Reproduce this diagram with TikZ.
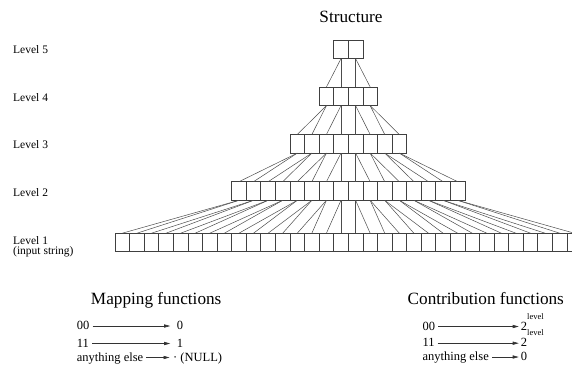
\documentclass[tikz,border=0pt]{standalone}
\usepackage{fontspec}
\setmainfont{Liberation Serif}
\usetikzlibrary{arrows.meta}

\begin{document}
\begin{tikzpicture}[x=1pt,y=-1pt,
  cell/.style={draw=black!75,line width=0.7pt,minimum width=14.58pt,minimum height=18.6pt,inner sep=0pt,outer sep=0pt},
  link/.style={line width=0.5pt,draw=black!70},
  lvl/.style={anchor=base west,inner sep=0pt,font=\fontsize{11.5}{10.2}\selectfont},
  head/.style={anchor=base,inner sep=0pt,font=\fontsize{17.2}{20}\selectfont},
  txt/.style={anchor=base west,inner ysep=0pt,text height=7pt,text depth=0pt,font=\fontsize{12.5}{14}\selectfont},
  src/.style={txt,inner xsep=3pt},
  tgt/.style={txt,inner xsep=2pt},
  arr/.style={line width=0.6pt,draw=black!80,-{Triangle[length=6pt,width=3.2pt]}}]
\clip (0,0) rectangle (572,368);

\node[head] (title) at (351,22.5) {Structure};

% cells of the five levels
\foreach \lev/\n/\y in {5/2/49.3,4/4/96.3,3/8/143.8,2/16/191,1/32/242.5}
  \foreach \i in {1,...,\n}
    \node[cell] (c\lev-\i) at ({348.3+(\i-0.5-\n/2)*14.58},\y) {};

% each pair joins one cell above
\foreach \lev in {1,...,4} {
  \pgfmathtruncatemacro\up{\lev+1}
  \pgfmathtruncatemacro\n{2^(6-\lev)}
  \foreach \i in {1,...,\n} {
    \pgfmathtruncatemacro\j{(\i+1)/2}
    \draw[link] (c\lev-\i.north) -- (c\up-\j.south);
  }
}

\node[lvl] (lv5) at (13,53.3) {Level 5};
\node[lvl] (lv4) at (13,101.7) {Level 4};
\node[lvl] (lv3) at (13,148.3) {Level 3};
\node[lvl] (lv2) at (13,196.7) {Level 2};
\node[lvl,anchor=north west,align=left] (lv1) at (13,236) {Level 1\\(input string)};

% mapping functions
\node[head] (maph) at (156.2,304) {Mapping functions};
\node[src] (m00) at (73.7,329.5) {00};
\node[tgt,inner xsep=6.5pt] (m0) at (170.2,329.5) {0};
\node[src] (m11) at (73.7,347) {11};
\node[tgt,inner xsep=6.5pt] (m1) at (170.2,347) {1};
\node[src] (mels) at (73.7,361) {anything else};
\node[tgt,inner xsep=3.5pt] (mnul) at (169.5,361) {\textperiodcentered{} (NULL)};
\draw[arr] (m00) -- (m0);
\draw[arr] (m11) -- (m1);
\draw[arr] (mels) -- (mnul);

% contribution functions
\node[head] (conh) at (485.8,304.5) {Contribution functions};
\node[src] (cb00) at (419.3,330) {00};
\node[tgt] (cb2a) at (518.7,330) {2\raisebox{11pt}{\fontsize{8.5}{9}\selectfont level}};
\node[src] (cb11) at (419.3,346.7) {11};
\node[tgt] (cb2b) at (518.7,346.7) {2\raisebox{11pt}{\fontsize{8.5}{9}\selectfont level}};
\node[src] (cbels) at (419.3,360.5) {anything else};
\node[tgt] (cb0) at (518.7,360.5) {0};
\draw[arr] (cb00) -- (cb2a);
\draw[arr] (cb11) -- (cb2b);
\draw[arr] (cbels) -- (cb0);
\end{tikzpicture}
\end{document}
